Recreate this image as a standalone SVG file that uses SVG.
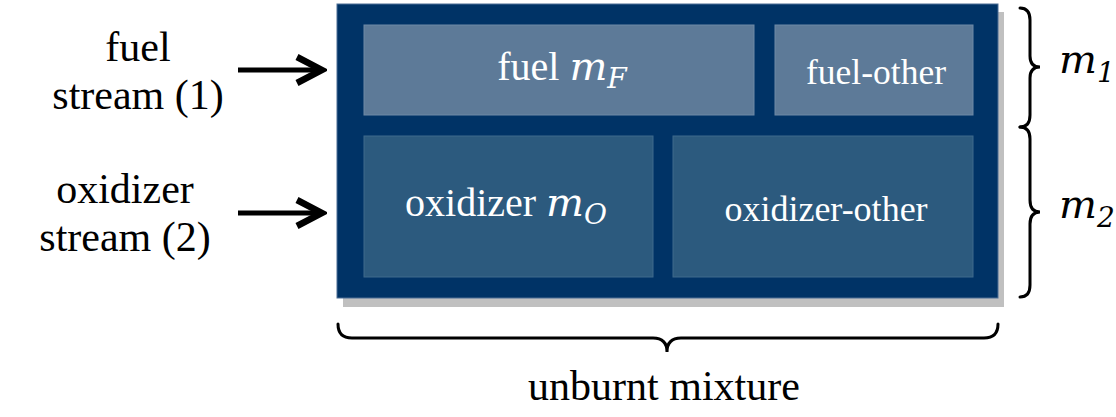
<svg xmlns="http://www.w3.org/2000/svg" width="1116" height="417" viewBox="0 0 1116 417">
<style>
.lbl{font-family:"Liberation Serif","Times New Roman",serif;fill:#000;font-size:42px}
.in{font-family:"Liberation Serif","Times New Roman",serif;fill:#fff}
.math{font-family:"DejaVu Serif",serif;font-style:italic}
.brace{fill:none;stroke:#000;stroke-width:3;stroke-linecap:round}
.fuelbox{fill:#5d7a98;stroke:#6f8aa6;stroke-width:1}
.oxbox{fill:#2c5a7e;stroke:#3e6a8c;stroke-width:1}
</style>
<defs>
<marker id="ah" viewBox="0 0 34 32" refX="29" refY="16" markerWidth="34" markerHeight="32" orient="auto" markerUnits="userSpaceOnUse">
<path d="M4,3 L29,16 L4,29" fill="none" stroke="#000" stroke-width="6.5" stroke-linejoin="miter" stroke-miterlimit="10"/>
</marker>
</defs>
<rect x="0" y="0" width="1116" height="417" fill="#fff"/>
<g id="mixture">
<rect x="343" y="12" width="661" height="295" fill="#c0c0c0"/>
<rect x="337" y="4" width="661" height="294" fill="#003366" stroke="#4d6f95" stroke-width="1"/>
</g>
<g id="fuel">
<rect class="fuelbox" x="364" y="25" width="390" height="90"/>
<text class="in" x="562" y="80" font-size="40" text-anchor="middle">fuel <tspan class="math">m</tspan><tspan class="math" font-size="28" dy="8">F</tspan></text>
</g>
<g id="fuel-other">
<rect class="fuelbox" x="775" y="25" width="198" height="90"/>
<text class="in" x="876" y="84" font-size="35.5" text-anchor="middle">fuel-other</text>
</g>
<g id="oxidizer">
<rect class="oxbox" x="364" y="136" width="289" height="141"/>
<text class="in" x="506" y="216" font-size="40" text-anchor="middle">oxidizer <tspan class="math">m</tspan><tspan class="math" font-size="28" dy="8">O</tspan></text>
</g>
<g id="oxidizer-other">
<rect class="oxbox" x="673" y="136" width="300" height="141"/>
<text class="in" x="826" y="221" font-size="36" text-anchor="middle">oxidizer-other</text>
</g>
<g id="fuel-stream">
<text class="lbl" text-anchor="middle"><tspan x="138" y="61">fuel</tspan><tspan x="138" y="109">stream (1)</tspan></text>
</g>
<g id="oxidizer-stream">
<text class="lbl" text-anchor="middle"><tspan x="125" y="203">oxidizer</tspan><tspan x="125" y="251">stream (2)</tspan></text>
</g>
<g id="connectors">
<line x1="238" y1="70" x2="322" y2="70" stroke="#000" stroke-width="5" marker-end="url(#ah)"/>
<line x1="238" y1="213" x2="322" y2="213" stroke="#000" stroke-width="5" marker-end="url(#ah)"/>
</g>
<g id="m1">
<path class="brace" d="M1020,8 Q1030,8 1030,20 L1030,56 Q1030,67 1040,67 Q1030,67 1030,78 L1030,115 Q1030,127 1020,127"/>
<text x="1059" y="73" font-size="40" class="math">m<tspan font-size="28" dy="9">1</tspan></text>
</g>
<g id="m2">
<path class="brace" d="M1020,127 Q1030,127 1030,139 L1030,200 Q1030,212 1040,212 Q1030,212 1030,224 L1030,285 Q1030,297 1020,297"/>
<text x="1059" y="218" font-size="40" class="math">m<tspan font-size="28" dy="9">2</tspan></text>
</g>
<g id="unburnt">
<path class="brace" d="M338,324 Q338,338 352,338 L653,338 Q667,338 667,352 Q667,338 681,338 L984,338 Q998,338 998,324"/>
<text class="lbl" x="664" y="400" text-anchor="middle">unburnt mixture</text>
</g>
</svg>
